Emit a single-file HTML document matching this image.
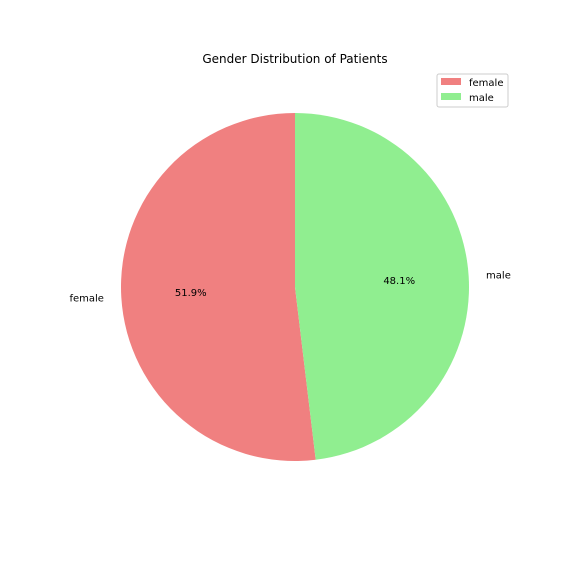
<!DOCTYPE html>
<html><head><meta charset="utf-8"><style>
body{margin:0;background:#fff;font-family:"Liberation Sans","DejaVu Sans",sans-serif;}
svg text{font-family:"DejaVu Sans","Liberation Sans",sans-serif;}
</style></head><body>
<svg id="chart" width="576" height="576" xmlns="http://www.w3.org/2000/svg">
<rect width="576" height="576" fill="#fff"/>
<text x="295" y="63" text-anchor="middle" font-size="12">Gender Distribution of Patients</text>
<g id="slices"></g>
<g>
<rect x="437" y="74" width="71" height="33" fill="#fff" stroke="#ccc" rx="2"/>
<rect x="441" y="78" width="20" height="7" fill="#f08080"/>
<text x="469" y="86" font-size="10">female</text>
<rect x="441" y="93" width="20" height="7" fill="#90ee90"/>
<text x="469" y="101" font-size="10">male</text>
</g>
</svg>
<script>
const categories = ["female", "male"];
const values = [51.9, 48.1];
const colors = ["#f08080", "#90ee90"];
const cx = 295, cy = 287, r = 174;
const g = document.getElementById('slices');
const NS = 'http://www.w3.org/2000/svg';
const total = values.reduce((a, b) => a + b, 0);
let start = 90;
function pt(a, rr) { const t = a * Math.PI / 180; return [cx + rr * Math.cos(t), cy - rr * Math.sin(t)]; }
values.forEach((v, i) => {
  const sweep = v / total * 360, end = start + sweep;
  const p0 = pt(start, r), p1 = pt(end, r);
  const path = document.createElementNS(NS, 'path');
  path.setAttribute('d', `M${cx},${cy} L${p0[0]},${p0[1]} A${r},${r} 0 ${sweep > 180 ? 1 : 0} 0 ${p1[0]},${p1[1]} Z`);
  path.setAttribute('fill', colors[i]);
  
  
  g.appendChild(path);
  const mid = start + sweep / 2;
  const lp = pt(mid, r * 1.1);
  const lt = document.createElementNS(NS, 'text');
  lt.setAttribute('x', lp[0]); lt.setAttribute('y', lp[1] + 3);
  lt.setAttribute('font-size', '10');
  lt.setAttribute('text-anchor', Math.cos(mid * Math.PI / 180) < 0 ? 'end' : 'start');
  lt.textContent = categories[i];
  
  
  g.appendChild(lt);
  const pp = pt(mid, r * 0.6);
  const pt2 = document.createElementNS(NS, 'text');
  pt2.setAttribute('x', pp[0]); pt2.setAttribute('y', pp[1] + 3);
  pt2.setAttribute('font-size', '10');
  pt2.setAttribute('text-anchor', 'middle');
  pt2.textContent = (v / total * 100).toFixed(1) + '%';
  
  
  g.appendChild(pt2);
  start = end;
});
</script>
</body></html>
